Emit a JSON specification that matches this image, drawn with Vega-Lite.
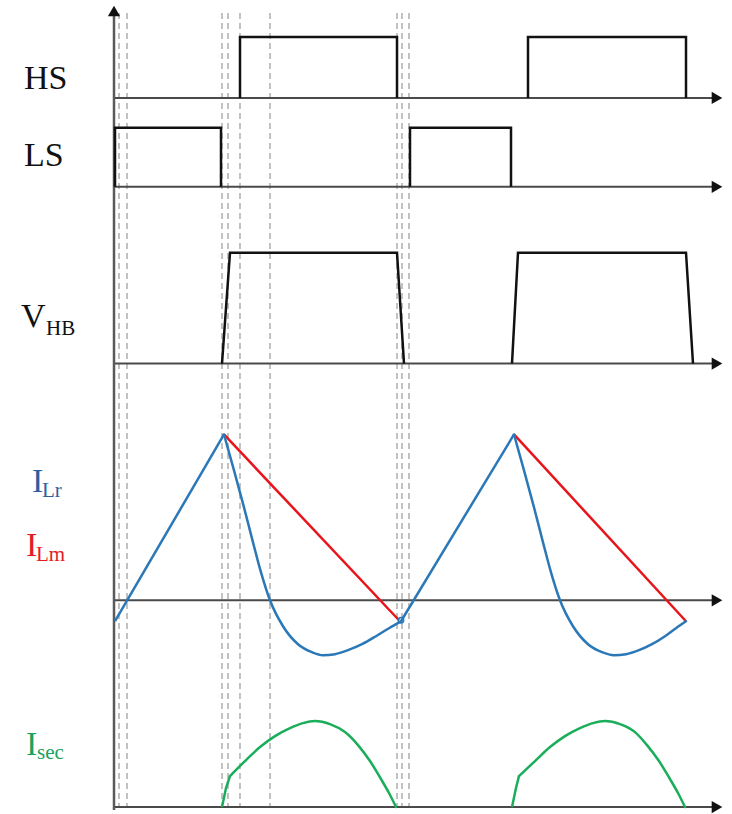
{
  "$schema": "https://vega.github.io/schema/vega-lite/v6.json",
  "autosize": {"type": "fit", "contains": "padding"},
  "width": 732,
  "height": 814,
  "padding": 0,
  "background": "white",
  "config": {"view": {"stroke": null}},
  "resolve": {"scale": {"color": "independent"}},
  "datasets": {
    "markers": [
      {"t": 119}, {"t": 127}, {"t": 222}, {"t": 228}, {"t": 240},
      {"t": 270}, {"t": 397}, {"t": 402}, {"t": 409}
    ],
    "baselines": [
      {"name": "HS", "v": 98},
      {"name": "LS", "v": 187},
      {"name": "VHB", "v": 364},
      {"name": "IL", "v": 601},
      {"name": "Isec", "v": 808}
    ],
    "traces": [
      {"s": "HS", "g": "h1", "i": 0, "t": 240, "v": 98},
      {"s": "HS", "g": "h1", "i": 1, "t": 240, "v": 37},
      {"s": "HS", "g": "h1", "i": 2, "t": 397, "v": 37},
      {"s": "HS", "g": "h1", "i": 3, "t": 397, "v": 98},
      {"s": "HS", "g": "h2", "i": 0, "t": 528, "v": 98},
      {"s": "HS", "g": "h2", "i": 1, "t": 528, "v": 37},
      {"s": "HS", "g": "h2", "i": 2, "t": 686, "v": 37},
      {"s": "HS", "g": "h2", "i": 3, "t": 686, "v": 98},

      {"s": "LS", "g": "l1", "i": 0, "t": 115, "v": 187},
      {"s": "LS", "g": "l1", "i": 1, "t": 115, "v": 128},
      {"s": "LS", "g": "l1", "i": 2, "t": 221, "v": 128},
      {"s": "LS", "g": "l1", "i": 3, "t": 221, "v": 187},
      {"s": "LS", "g": "l2", "i": 0, "t": 410, "v": 187},
      {"s": "LS", "g": "l2", "i": 1, "t": 410, "v": 128},
      {"s": "LS", "g": "l2", "i": 2, "t": 511, "v": 128},
      {"s": "LS", "g": "l2", "i": 3, "t": 511, "v": 187},

      {"s": "VHB", "g": "v1", "i": 0, "t": 222, "v": 364},
      {"s": "VHB", "g": "v1", "i": 1, "t": 230, "v": 253},
      {"s": "VHB", "g": "v1", "i": 2, "t": 397, "v": 253},
      {"s": "VHB", "g": "v1", "i": 3, "t": 404, "v": 364},
      {"s": "VHB", "g": "v2", "i": 0, "t": 512, "v": 364},
      {"s": "VHB", "g": "v2", "i": 1, "t": 518, "v": 253},
      {"s": "VHB", "g": "v2", "i": 2, "t": 686, "v": 253},
      {"s": "VHB", "g": "v2", "i": 3, "t": 693, "v": 364},

      {"s": "ILm", "g": "m1", "i": 0, "t": 224, "v": 435},
      {"s": "ILm", "g": "m1", "i": 1, "t": 399, "v": 621},
      {"s": "ILm", "g": "m2", "i": 0, "t": 514, "v": 435},
      {"s": "ILm", "g": "m2", "i": 1, "t": 686, "v": 622},

      {"s": "ILr", "g": "r1", "i": 0, "t": 115, "v": 622},
      {"s": "ILr", "g": "r1", "i": 1, "t": 224, "v": 435},
      {"s": "ILr", "g": "r2", "i": 0, "t": 401, "v": 622},
      {"s": "ILr", "g": "r2", "i": 1, "t": 514, "v": 435},

      {"s": "Isec", "g": "e1", "i": 0, "t": 222, "v": 808},
      {"s": "Isec", "g": "e1", "i": 1, "t": 226, "v": 789},
      {"s": "Isec", "g": "e1", "i": 2, "t": 230, "v": 777},
      {"s": "Isec", "g": "e2", "i": 0, "t": 512, "v": 808},
      {"s": "Isec", "g": "e2", "i": 1, "t": 516, "v": 789},
      {"s": "Isec", "g": "e2", "i": 2, "t": 519, "v": 777}
    ],
    "curves": [
      {"s": "ILr", "g": "c1", "t": 224, "v": 435},
      {"s": "ILr", "g": "c1", "t": 234, "v": 471},
      {"s": "ILr", "g": "c1", "t": 244, "v": 508},
      {"s": "ILr", "g": "c1", "t": 253, "v": 543},
      {"s": "ILr", "g": "c1", "t": 261, "v": 573},
      {"s": "ILr", "g": "c1", "t": 270, "v": 601},
      {"s": "ILr", "g": "c1", "t": 283, "v": 627},
      {"s": "ILr", "g": "c1", "t": 298, "v": 645},
      {"s": "ILr", "g": "c1", "t": 312, "v": 653},
      {"s": "ILr", "g": "c1", "t": 323, "v": 656},
      {"s": "ILr", "g": "c1", "t": 335, "v": 655},
      {"s": "ILr", "g": "c1", "t": 348, "v": 651},
      {"s": "ILr", "g": "c1", "t": 362, "v": 645},
      {"s": "ILr", "g": "c1", "t": 376, "v": 637},
      {"s": "ILr", "g": "c1", "t": 389, "v": 629},
      {"s": "ILr", "g": "c1", "t": 401, "v": 622},

      {"s": "ILr", "g": "c2", "t": 514, "v": 435},
      {"s": "ILr", "g": "c2", "t": 524, "v": 471},
      {"s": "ILr", "g": "c2", "t": 534, "v": 508},
      {"s": "ILr", "g": "c2", "t": 543, "v": 543},
      {"s": "ILr", "g": "c2", "t": 551, "v": 573},
      {"s": "ILr", "g": "c2", "t": 560, "v": 601},
      {"s": "ILr", "g": "c2", "t": 573, "v": 627},
      {"s": "ILr", "g": "c2", "t": 588, "v": 645},
      {"s": "ILr", "g": "c2", "t": 602, "v": 653},
      {"s": "ILr", "g": "c2", "t": 614, "v": 656},
      {"s": "ILr", "g": "c2", "t": 626, "v": 655},
      {"s": "ILr", "g": "c2", "t": 639, "v": 651},
      {"s": "ILr", "g": "c2", "t": 652, "v": 645},
      {"s": "ILr", "g": "c2", "t": 665, "v": 637},
      {"s": "ILr", "g": "c2", "t": 676, "v": 629},
      {"s": "ILr", "g": "c2", "t": 686, "v": 622},

      {"s": "Isec", "g": "a1", "t": 230, "v": 777},
      {"s": "Isec", "g": "a1", "t": 245, "v": 762},
      {"s": "Isec", "g": "a1", "t": 260, "v": 748},
      {"s": "Isec", "g": "a1", "t": 275, "v": 737},
      {"s": "Isec", "g": "a1", "t": 290, "v": 729},
      {"s": "Isec", "g": "a1", "t": 303, "v": 724},
      {"s": "Isec", "g": "a1", "t": 315, "v": 722},
      {"s": "Isec", "g": "a1", "t": 330, "v": 725},
      {"s": "Isec", "g": "a1", "t": 345, "v": 733},
      {"s": "Isec", "g": "a1", "t": 358, "v": 746},
      {"s": "Isec", "g": "a1", "t": 370, "v": 762},
      {"s": "Isec", "g": "a1", "t": 381, "v": 780},
      {"s": "Isec", "g": "a1", "t": 389, "v": 794},
      {"s": "Isec", "g": "a1", "t": 396, "v": 808},

      {"s": "Isec", "g": "a2", "t": 519, "v": 777},
      {"s": "Isec", "g": "a2", "t": 535, "v": 762},
      {"s": "Isec", "g": "a2", "t": 550, "v": 748},
      {"s": "Isec", "g": "a2", "t": 565, "v": 737},
      {"s": "Isec", "g": "a2", "t": 580, "v": 729},
      {"s": "Isec", "g": "a2", "t": 593, "v": 724},
      {"s": "Isec", "g": "a2", "t": 605, "v": 722},
      {"s": "Isec", "g": "a2", "t": 620, "v": 725},
      {"s": "Isec", "g": "a2", "t": 635, "v": 733},
      {"s": "Isec", "g": "a2", "t": 647, "v": 746},
      {"s": "Isec", "g": "a2", "t": 659, "v": 762},
      {"s": "Isec", "g": "a2", "t": 670, "v": 780},
      {"s": "Isec", "g": "a2", "t": 678, "v": 794},
      {"s": "Isec", "g": "a2", "t": 685, "v": 808}
    ],
    "labels": [
      {"s": "HS", "text": "HS", "t": 24, "v": 89},
      {"s": "LS", "text": "LS", "t": 24, "v": 166},
      {"s": "VHB", "text": "V", "t": 21, "v": 327},
      {"s": "ILr", "text": "I", "t": 32, "v": 493},
      {"s": "ILm", "text": "I", "t": 26, "v": 557},
      {"s": "Isec", "text": "I", "t": 26, "v": 756}
    ],
    "subscripts": [
      {"s": "VHB", "text": "HB", "t": 46, "v": 335},
      {"s": "ILr", "text": "Lr", "t": 42, "v": 498},
      {"s": "ILm", "text": "Lm", "t": 36, "v": 562},
      {"s": "Isec", "text": "sec", "t": 37, "v": 760}
    ]
  },
  "layer": [
    {
      "data": {"name": "markers"},
      "mark": {"type": "rule", "color": "#a8a8a8", "strokeWidth": 1.4, "strokeDash": [6, 4]},
      "encoding": {
        "x": {"field": "t", "type": "quantitative", "scale": {"domain": [0, 732], "nice": false, "zero": false}, "axis": null},
        "y": {"datum": 13, "type": "quantitative", "scale": {"domain": [0, 814], "nice": false, "zero": false, "reverse": true}, "axis": null},
        "y2": {"datum": 808}
      }
    },
    {
      "data": {"name": "baselines"},
      "mark": {"type": "rule", "color": "#4a4a4a", "strokeWidth": 2},
      "encoding": {
        "y": {"field": "v", "type": "quantitative", "axis": null},
        "x": {"datum": 114, "type": "quantitative", "axis": null},
        "x2": {"datum": 712}
      }
    },
    {
      "data": {"name": "baselines"},
      "mark": {"type": "point", "shape": "triangle-right", "filled": true, "color": "#111111", "size": 150, "opacity": 1},
      "encoding": {
        "y": {"field": "v", "type": "quantitative", "axis": null},
        "x": {"datum": 717, "type": "quantitative", "axis": null}
      }
    },
    {
      "data": {"values": [{"axis": "vertical"}]},
      "mark": {"type": "rule", "color": "#5a5a5a", "strokeWidth": 2.5},
      "encoding": {
        "x": {"datum": 114, "type": "quantitative", "axis": null},
        "y": {"datum": 811, "type": "quantitative", "axis": null},
        "y2": {"datum": 16}
      }
    },
    {
      "data": {"values": [{"axis": "vertical"}]},
      "mark": {"type": "point", "shape": "triangle-up", "filled": true, "color": "#111111", "size": 150, "opacity": 1},
      "encoding": {
        "x": {"datum": 114, "type": "quantitative", "axis": null},
        "y": {"datum": 11, "type": "quantitative", "axis": null}
      }
    },
    {
      "data": {"name": "traces"},
      "mark": {"type": "line", "strokeWidth": 2.5, "strokeJoin": "miter", "strokeCap": "butt"},
      "encoding": {
        "x": {"field": "t", "type": "quantitative", "axis": null},
        "y": {"field": "v", "type": "quantitative", "axis": null},
        "detail": {"field": "g"},
        "order": {"field": "i", "type": "quantitative"},
        "color": {
          "field": "s",
          "type": "nominal",
          "scale": {"domain": ["HS", "LS", "VHB", "ILr", "ILm", "Isec"], "range": ["#111111", "#111111", "#111111", "#2a78b8", "#e8141c", "#1aae5a"]},
          "legend": null
        }
      }
    },
    {
      "data": {"name": "curves"},
      "mark": {"type": "line", "strokeWidth": 2.5, "interpolate": "monotone", "strokeCap": "round"},
      "encoding": {
        "x": {"field": "t", "type": "quantitative", "axis": null},
        "y": {"field": "v", "type": "quantitative", "axis": null},
        "detail": {"field": "g"},
        "color": {
          "field": "s",
          "type": "nominal",
          "scale": {"domain": ["ILr", "Isec"], "range": ["#2a78b8", "#1aae5a"]},
          "legend": null
        }
      }
    },
    {
      "data": {"values": [{"t": 401, "v": 621}]},
      "mark": {"type": "point", "shape": "circle", "filled": false, "color": "#2a78b8", "strokeWidth": 1.5, "size": 28, "opacity": 1},
      "encoding": {
        "x": {"field": "t", "type": "quantitative", "axis": null},
        "y": {"field": "v", "type": "quantitative", "axis": null}
      }
    },
    {
      "data": {"name": "labels"},
      "mark": {"type": "text", "font": "Liberation Serif", "fontSize": 34, "align": "left", "baseline": "alphabetic"},
      "encoding": {
        "x": {"field": "t", "type": "quantitative", "axis": null},
        "y": {"field": "v", "type": "quantitative", "axis": null},
        "text": {"field": "text"},
        "color": {
          "field": "s",
          "type": "nominal",
          "scale": {"domain": ["HS", "LS", "VHB", "ILr", "ILm", "Isec"], "range": ["#111111", "#111111", "#111111", "#2d5f9e", "#e31c24", "#1aa35c"]},
          "legend": null
        }
      }
    },
    {
      "data": {"name": "subscripts"},
      "mark": {"type": "text", "font": "Liberation Serif", "fontSize": 21, "align": "left", "baseline": "alphabetic"},
      "encoding": {
        "x": {"field": "t", "type": "quantitative", "axis": null},
        "y": {"field": "v", "type": "quantitative", "axis": null},
        "text": {"field": "text"},
        "color": {
          "field": "s",
          "type": "nominal",
          "scale": {"domain": ["HS", "LS", "VHB", "ILr", "ILm", "Isec"], "range": ["#111111", "#111111", "#111111", "#2d5f9e", "#e31c24", "#1aa35c"]},
          "legend": null
        }
      }
    }
  ]
}
